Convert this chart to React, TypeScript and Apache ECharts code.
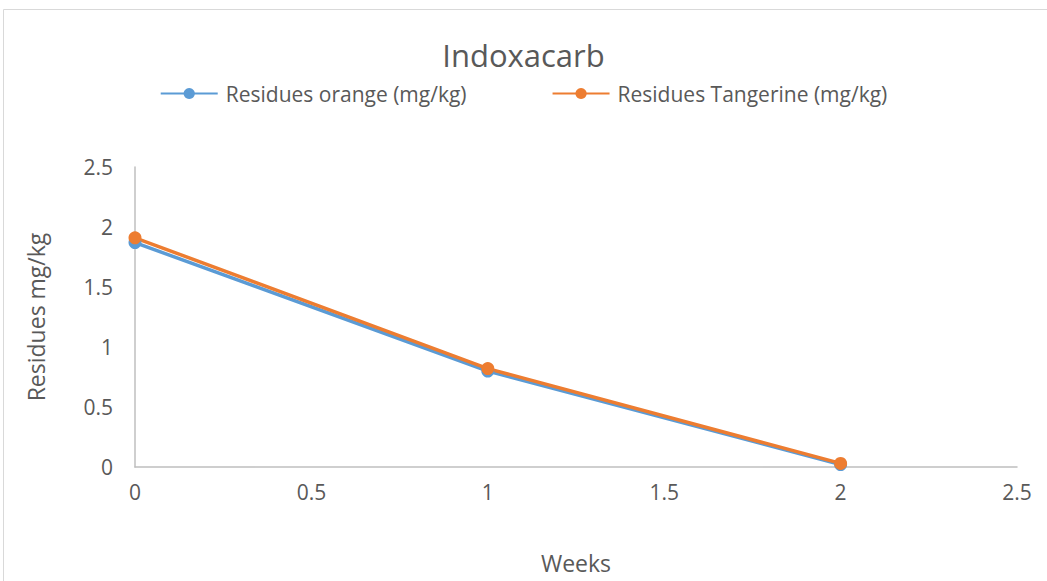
import React, { useEffect, useRef } from "react";
import * as echarts from "echarts";

const weeks = [0, 1, 2];
const orangeResidues = [1.87, 0.8, 0.02];
const tangerineResidues = [1.91, 0.82, 0.03];
const seriesNames = ["Residues orange (mg/kg)", "Residues Tangerine (mg/kg)"];
const FONT = "Open Sans";

export default function App() {
  const ref = useRef<HTMLDivElement>(null);
  useEffect(() => {
    const chart = echarts.init(ref.current!, null, { renderer: "svg" });
    const mk = (name: string, vals: number[], color: string) => ({
      name,
      type: "line",
      data: weeks.map((w, i) => [w, vals[i]]),
      symbol: "circle",
      symbolSize: 13,
      lineStyle: { color, width: 3.5 },
      itemStyle: { color },
      z: 2,
    });
    chart.setOption({
      animation: false,
      textStyle: { fontFamily: FONT },
      graphic: [
        {
          type: "rect",
          shape: { x: 3.5, y: 9.5, width: 1100, height: 600 },
          style: { fill: "none", stroke: "#d9d9d9", lineWidth: 1 },
          silent: true,
        },
      ],
      title: {
        text: "Indoxacarb",
        left: "center",
        top: 34,
        textStyle: { fontFamily: FONT, fontSize: 31, fontWeight: "normal", color: "#595959" },
      },
      legend: {
        top: 78,
        left: "center",
        itemWidth: 57,
        itemHeight: 14,
        itemGap: 85,
        textStyle: { fontFamily: FONT, fontSize: 21, color: "#595959", padding: [0, 0, 0, 3] },
        data: seriesNames,
      },
      grid: { left: 135, top: 167, right: 30, bottom: 114 },
      xAxis: {
        type: "value",
        min: 0,
        max: 2.5,
        interval: 0.5,
        name: "Weeks",
        nameLocation: "middle",
        nameGap: 84,
        nameTextStyle: { fontFamily: FONT, fontSize: 23, color: "#595959" },
        axisLine: { show: true, lineStyle: { color: "#bfbfbf", width: 1.5 } },
        axisTick: { show: false },
        splitLine: { show: false },
        axisLabel: { fontFamily: FONT, fontSize: 21, color: "#595959", margin: 14 },
      },
      yAxis: {
        type: "value",
        min: 0,
        max: 2.5,
        interval: 0.5,
        name: "Residues mg/kg",
        nameLocation: "middle",
        nameGap: 88,
        nameTextStyle: { fontFamily: FONT, fontSize: 23, color: "#595959" },
        axisLine: { show: true, lineStyle: { color: "#bfbfbf", width: 1.5 } },
        axisTick: { show: false },
        splitLine: { show: false },
        axisLabel: { fontFamily: FONT, fontSize: 21, color: "#595959", margin: 22 },
      },
      series: [
        mk(seriesNames[0], orangeResidues, "#5B9BD5"),
        mk(seriesNames[1], tangerineResidues, "#ED7D31"),
      ],
    });
    return () => chart.dispose();
  }, []);
  return (
    <div
      ref={ref}
      style={{ position: "fixed", left: 0, top: 0, width: 1047, height: 581, background: "#fff" }}
    />
  );
}
